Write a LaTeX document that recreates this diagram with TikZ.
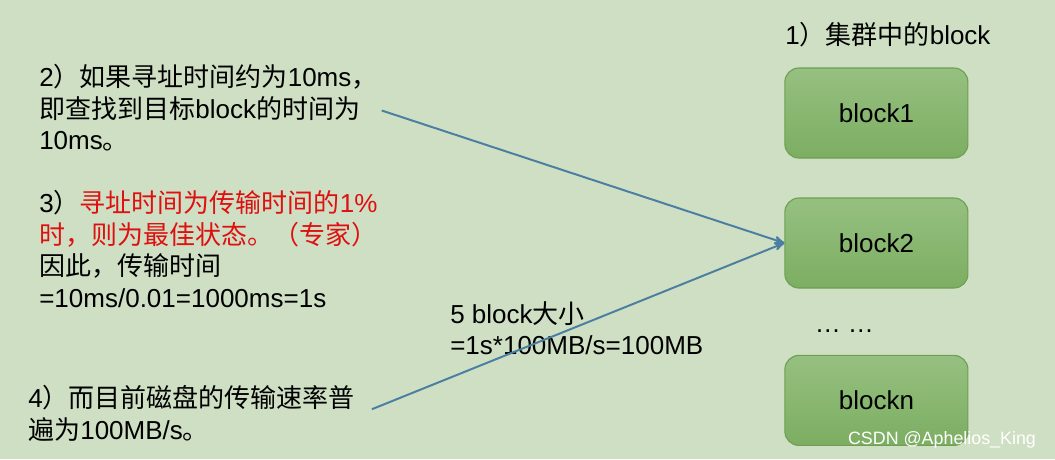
\documentclass[tikz,border=0pt]{standalone}
\usepackage{fontspec}
\setmainfont{Liberation Sans}
\newfontfamily\cjkfont{Noto Sans CJK SC}
\usepackage{tikz}
\usetikzlibrary{arrows}
\newcommand{\zh}[1]{{\cjkfont #1}}
\definecolor{hdbg}{RGB}{207,223,196}
\definecolor{hdred}{RGB}{222,16,16}
\definecolor{hdlink}{RGB}{74,127,162}
\definecolor{hdtop}{RGB}{150,192,128}
\definecolor{hdbot}{RGB}{124,174,98}
\definecolor{hdedge}{RGB}{110,160,84}

\begin{document}
\begin{tikzpicture}[
	note/.style={anchor=north west, align=left, inner sep=0.1cm, font=\fontsize{18.5}{22.4}\selectfont},
	block/.style={rounded corners=0.35cm, draw=hdedge, thick, top color=hdtop, bottom color=hdbot, minimum width=4.575cm, minimum height=2.25cm, font=\fontsize{18.5}{22.4}\selectfont},
	link/.style={hdlink, line width=1.4pt, ->, >=stealth'},
	]
	
	\fill[hdbg] (0,0) rectangle (26.375,-11.475);
	\useasboundingbox (0,0) rectangle (26.375,-11.475);
	
	\node (T1) [note] at (19.525,-0.45) {1\zh{）集群中的}block};
	\node (B1) [block] at (21.91,-2.825) {block1};
	\node (B2) [block] at (21.91,-6.075) {block2};
	\node (dots) [font=\fontsize{18.5}{22.4}\selectfont] at (21.11,-8.28) {… …};
	\node (Bn) [block] at (21.91,-10.01) {blockn};
	
	\node (T2) [note] at (0.875,-1.5) {2\zh{）如果寻址时间约为}10ms\zh{，}\\
		\zh{即查找到目标}block\zh{的时间为}\\
		10ms\zh{。}};
	\node (T3) [note] at (0.875,-4.65) {3\zh{）}\textcolor{hdred}{\zh{寻址时间为传输时间的}1\%}\\
		\textcolor{hdred}{\zh{时，则为最佳状态。（专家）}}\\
		\zh{因此，传输时间}\\
		=10ms/0.01=1000ms=1s};
	\node (T5) [note] at (11.15,-7.425) {5 block\zh{大小}\\
		=1s*100MB/s=100MB};
	\node (T4) [note] at (0.6,-9.525) {4\zh{）而目前磁盘的传输速率普}\\
		\zh{遍为}100MB/s\zh{。}};
	
	\draw[link] ([yshift=-0.07cm]T2.east) -- (B2.west);
	\draw[link] ([xshift=0.32cm,yshift=0.1cm]T4.east) -- (B2.west);
	
	\node (mark) [text=white, font=\fontsize{12.7}{14}\selectfont] at (23.55,-11.0) {CSDN @Aphelios\_King};
\end{tikzpicture}
\end{document}
